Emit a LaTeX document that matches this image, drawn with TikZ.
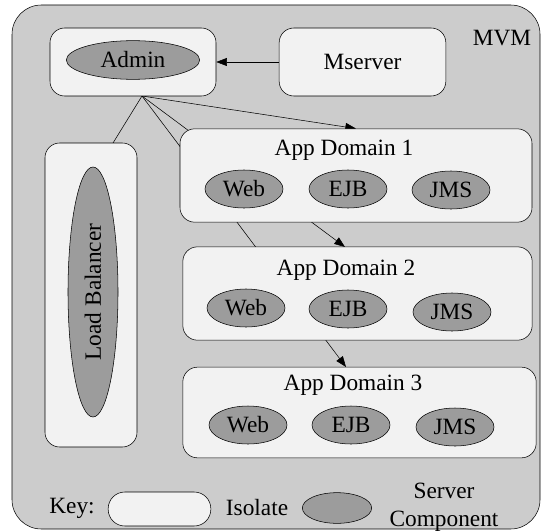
\documentclass[tikz,border=0pt]{standalone}
\usepackage{fontspec}
\setmainfont{Liberation Serif}
\newfontfamily\diagfont{Liberation Serif}
\usetikzlibrary{arrows.meta,backgrounds,shapes.geometric}
\pgfdeclarelayer{edges}
\pgfsetlayers{background,edges,main}
\definecolor{mvmfill}{HTML}{CCCCCC}
\definecolor{isofill}{HTML}{F2F2F2}
\definecolor{compfill}{HTML}{9C9C9C}
\tikzset{every picture/.style={line width=0.75pt}}
\tikzset{
  isolate/.style={draw, fill=isofill, rounded corners=11pt, inner sep=0pt},
  comp/.style={draw, fill=compfill, ellipse, inner sep=0pt},
  domcomp/.style={comp, minimum width=58.5pt, minimum height=28.5pt},
  lbl/.style={font=\diagfont\fontsize{17.5}{20}\selectfont, inner sep=0pt},
  edge/.style={-{Triangle[length=8pt,width=6pt]}},
}
\begin{document}
\begin{tikzpicture}[x=0.75pt,y=0.75pt,yscale=-1]
\useasboundingbox (0,0) rectangle (541,531);
%MVM
\begin{pgfonlayer}{background}
\draw [fill=mvmfill, rounded corners=22pt] (12,5) rectangle (540,529);
\end{pgfonlayer}
\node [lbl] (mvm) at (502,38) {MVM};
%Admin and Mserver
\node [isolate, minimum width=124.5pt, minimum height=51pt] (admin) at (133,62) {};
\node [comp, lbl, minimum width=100pt, minimum height=29pt] (admincomp) at (133,60) {Admin};
\node [isolate, lbl, minimum width=125pt, minimum height=51pt] (mserver) at (362.5,62) {Mserver};
%Load Balancer
\node [isolate, minimum width=69pt, minimum height=228pt] (lb) at (91,295) {};
\node [comp, lbl, minimum width=37.5pt, minimum height=187.5pt] (lbcomp) at (93,292) {};
\node [lbl, rotate=90] (lbtext) at (lbcomp) {Load Balancer};
%App Domains
\node [isolate, minimum width=264pt, minimum height=70pt] (ad1) at (356,175.5) {};
\node [lbl] (ad1title) at (344,150) {App Domain 1};
\node [domcomp, lbl] (web1) at (244,189) {Web};
\node [domcomp, lbl] (ejb1) at (348,189) {EJB};
\node [domcomp, lbl] (jms1) at (451,190) {JMS};
\node [isolate, minimum width=262pt, minimum height=70pt] (ad2) at (357.5,293.5) {};
\node [lbl] (ad2title) at (346,270) {App Domain 2};
\node [domcomp, lbl] (web2) at (246,308) {Web};
\node [domcomp, lbl] (ejb2) at (348,309) {EJB};
\node [domcomp, lbl] (jms2) at (452,312) {JMS};
\node [isolate, minimum width=265pt, minimum height=68pt] (ad3) at (359.5,412.5) {};
\node [lbl] (ad3title) at (353,385) {App Domain 3};
\node [domcomp, lbl] (web3) at (248,425) {Web};
\node [domcomp, lbl] (ejb3) at (351,425) {EJB};
\node [domcomp, lbl] (jms3) at (455,427) {JMS};
%Edges
\coordinate (hub) at (142,96);
\coordinate (lbtop) at (113,143);
\coordinate (ad2top) at (345,247);
\coordinate (ad3top) at (346,367);
\begin{pgfonlayer}{edges}
\draw [edge] (mserver.west) -- (admin.east);
\draw (hub) -- (lbtop);
\draw [edge] (hub) -- (ad1.north);
\draw [edge] (hub) -- (ad2top);
\draw [edge] (hub) -- (ad3top);
\end{pgfonlayer}
%Key
\node [lbl] (key) at (72,508) {Key:};
\node [isolate, rounded corners=12.5pt, minimum width=77pt, minimum height=25.5pt] (keyiso) at (159.5,509) {};
\node [lbl] (keyisotext) at (257,508) {Isolate};
\node [comp, minimum width=52pt, minimum height=23pt] (keycomp) at (337,508) {};
\node [lbl, align=center, font=\diagfont\fontsize{17.5}{21}\selectfont] (keycomptext) at (444,507) {Server\\Component};
\end{tikzpicture}
\end{document}
